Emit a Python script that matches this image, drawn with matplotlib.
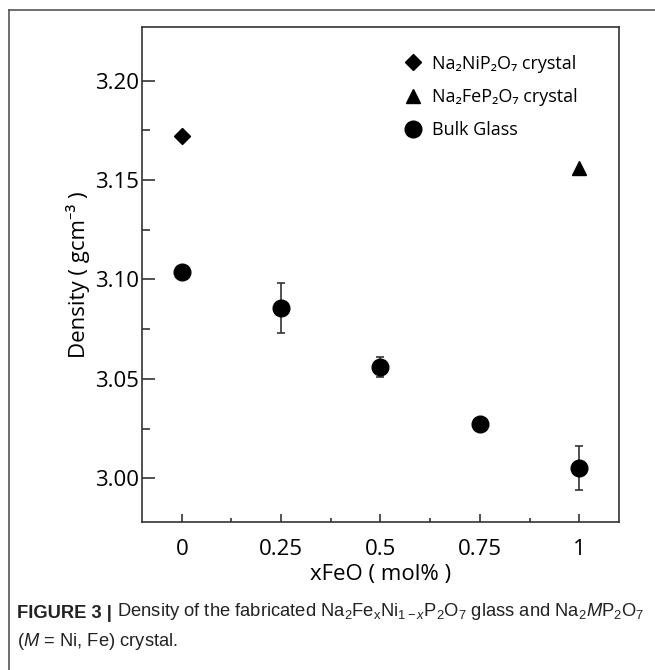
#!/usr/bin/env python

# Import libraries
import matplotlib
matplotlib.use('Agg')
import matplotlib.pyplot as plt
from matplotlib.lines import Line2D

# Data
x_glass = [0, 0.25, 0.5, 0.75, 1]
density_glass = [3.104, 3.0855, 3.056, 3.0275, 3.005]
err_glass = [0.003, 0.0125, 0.005, 0.002, 0.011]

x_ni_crystal = [0]
density_ni_crystal = [3.172]
x_fe_crystal = [1]
density_fe_crystal = [3.156]

x_ticks = [0, 0.25, 0.5, 0.75, 1]
x_tick_labels = ['0', '0.25', '0.5', '0.75', '1']
y_ticks = [3.00, 3.05, 3.10, 3.15, 3.20]
y_tick_labels = ['3.00', '3.05', '3.10', '3.15', '3.20']

legend_labels = ['Na₂NiP₂O₇ crystal', 'Na₂FeP₂O₇ crystal', 'Bulk Glass']

plt.rcParams['font.family'] = ['Open Sans', 'Noto Sans', 'DejaVu Sans']
plt.rcParams['mathtext.fontset'] = 'custom'
plt.rcParams['mathtext.rm'] = 'Liberation Sans'
plt.rcParams['mathtext.it'] = 'Liberation Sans:italic'
plt.rcParams['mathtext.bf'] = 'Liberation Sans:bold'

cap_font = ['Liberation Sans']
cap_size = 13.2

fig = plt.figure(figsize=(6.55, 6.70), dpi=100)
ax = fig.add_axes([0.2168, 0.2209, 0.7282, 0.7388])

# Outer frame of the figure panel (left and top edges)
fig.add_artist(Line2D([0.0145, 0.0145], [0, 0.985], transform=fig.transFigure,
                      color='#555555', lw=1.2))
fig.add_artist(Line2D([0.0145, 1.0], [0.985, 0.985], transform=fig.transFigure,
                      color='#555555', lw=1.2))

# Points
ax.plot(x_ni_crystal, density_ni_crystal, 'D', color='black', markersize=8)
ax.plot(x_fe_crystal, density_fe_crystal, '^', color='black', markersize=10)
ax.errorbar(x_glass, density_glass, yerr=err_glass, fmt='o', color='black',
            markersize=12, ecolor='#333333', elinewidth=1.2, capsize=3, capthick=1.2)

ax.set_xlim(-0.1, 1.1)
ax.set_ylim(2.978, 3.227)

ax.set_xticks(x_ticks)
ax.set_xticklabels(x_tick_labels)
ax.set_xticks([0.125, 0.375, 0.625, 0.875], minor=True)
ax.set_yticks(y_ticks)
ax.set_yticklabels(y_tick_labels)
ax.set_yticks([2.975 + 0.05 * i for i in range(1, 5)], minor=True)

ax.tick_params(axis='both', which='both', direction='in', color='#333333',
               labelsize=16, width=1.2)
ax.tick_params(axis='x', which='major', length=6, pad=12)
ax.tick_params(axis='x', which='minor', length=3)
ax.tick_params(axis='y', which='major', length=9, pad=2)
ax.tick_params(axis='y', which='minor', length=6)
for spine in ax.spines.values():
    spine.set_color('#333333')
    spine.set_linewidth(1.2)

ax.set_xlabel('xFeO ( mol% )', fontsize=16, labelpad=3)
ax.set_ylabel('Density ( gcm⁻³ )', fontsize=16, labelpad=4)

# Legend
handles = [
    Line2D([], [], marker='D', ls='none', color='black', markersize=8),
    Line2D([], [], marker='^', ls='none', color='black', markersize=10),
    Line2D([], [], marker='o', ls='none', color='black', markersize=12),
]
ax.legend(handles, legend_labels, loc='upper left', bbox_to_anchor=(0.515, 0.977),
          frameon=False, fontsize=13, handlelength=1.0, handletextpad=0.55,
          labelspacing=0.85)

# Caption
cap_bold = fig.text(0.026, 0.078, 'FIGURE 3 |', fontsize=cap_size, fontweight='bold',
                    family=cap_font, color='#222222')
ax.annotate(r' Density of the fabricated Na$_2$Fe$_\mathregular{x}$Ni$_{1-x}$P$_2$O$_7$ glass and Na$_2$$M$P$_2$O$_7$',
            xy=(1, 0), xycoords=cap_bold, va='bottom', ha='left', fontsize=cap_size,
            family=cap_font, color='#222222', annotation_clip=False)
fig.text(0.026, 0.036, '($M$ = Ni, Fe) crystal.', fontsize=cap_size,
         family=cap_font, color='#222222')

fig.savefig('out.png', dpi=100)
